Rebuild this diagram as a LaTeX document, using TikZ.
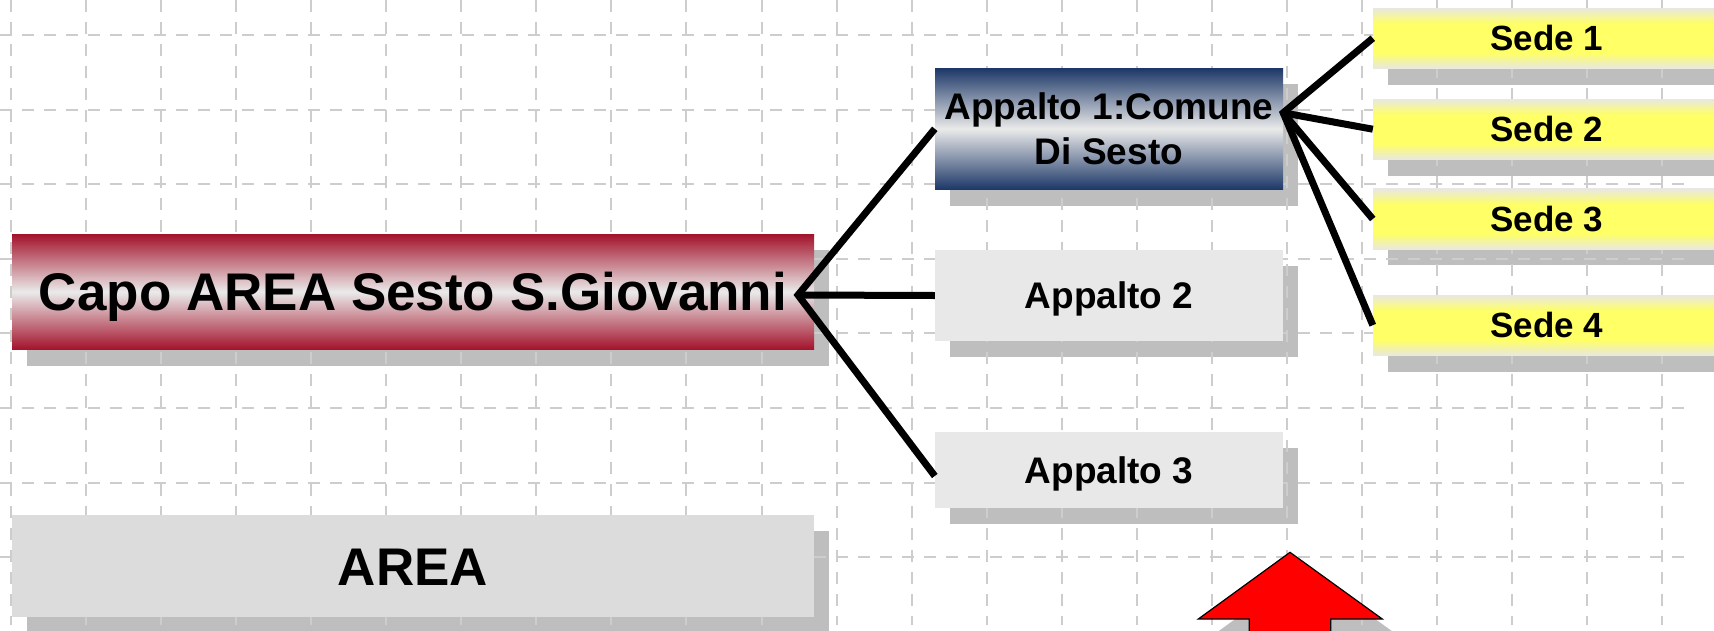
\documentclass[tikz,border=0pt]{standalone}
\usepackage{fontspec}
\setmainfont{Liberation Sans}
\usetikzlibrary{calc}
\definecolor{capored}{HTML}{A3122B}
\definecolor{navyblue}{HTML}{1C3767}
\definecolor{lightmid}{HTML}{EAEAEA}
\definecolor{boxgray}{HTML}{E8E8E8}
\definecolor{areagray}{HTML}{DCDCDC}
\definecolor{shadowgray}{HTML}{BEBEBE}
\definecolor{gridgray}{HTML}{CDCDCD}
\definecolor{sedeyel}{HTML}{FFFF66}
\definecolor{sedegray}{HTML}{E8E8E0}
\pgfdeclareverticalshading{sedeshade}{100bp}{color(0bp)=(sedegray); color(25bp)=(sedegray); color(38bp)=(sedeyel); color(62bp)=(sedeyel); color(75bp)=(sedegray); color(100bp)=(sedegray)}
\pgfdeclarelayer{shadowlayer}
\pgfdeclarelayer{gridlayer}
\pgfsetlayers{shadowlayer,gridlayer,main}
\begin{document}
\begin{tikzpicture}[x=1pt,y=-1pt,
  bigbox/.style={inner sep=0pt, minimum width=802pt, font=\bfseries\fontsize{53}{64}\selectfont, text height=38pt, text depth=0pt},
  twoline/.style={inner sep=0pt, minimum width=348pt, font=\bfseries\fontsize{37}{45}\selectfont, align=center},
  onebox/.style={inner sep=0pt, minimum width=348pt, fill=boxgray, font=\bfseries\fontsize{37}{45}\selectfont, text height=26.5pt, text depth=0pt},
  sedebox/.style={inner sep=0pt, minimum width=348pt, minimum height=60.3pt, shade, shading=sedeshade, font=\bfseries\fontsize{35}{42}\selectfont, text height=25pt, text depth=0pt},
  conn/.style={line width=7pt, black, line join=miter},
  gridline/.style={line width=2pt, gridgray, dash pattern=on 12pt off 10pt},
  arrowshape/.style={fill=red, draw=black, line width=1.2pt, line join=miter}
]
\useasboundingbox (0,0) rectangle (1714,630);
\clip (0,0) rectangle (1714,630);

% nodes
\node[bigbox, top color=capored, bottom color=capored, middle color=lightmid, minimum height=115.5pt] (capo) at (413,291.75) {Capo AREA Sesto S.Giovanni};
\node[bigbox, fill=areagray, minimum height=102pt] (area) at (413,566) {AREA};
\node[twoline, top color=navyblue, bottom color=navyblue, middle color=lightmid, minimum height=121.6pt] (app1) at (1109,128.8) {Appalto 1:Comune\\Di Sesto};
\node[onebox, minimum height=91pt] (app2) at (1109,295.5) {Appalto 2};
\node[onebox, minimum height=76pt] (app3) at (1109,470) {Appalto 3};
\node[sedebox] (sede1) at (1547,38.2) {Sede 1};
\node[sedebox] (sede2) at (1547,129.2) {Sede 2};
\node[sedebox] (sede3) at (1547,219) {Sede 3};
\node[sedebox] (sede4) at (1547,325.2) {Sede 4};

% shadows and background
\begin{pgfonlayer}{shadowlayer}
  \fill[white] (0,0) rectangle (1714,630);
  \foreach \n in {capo,area,app1,app2,app3,sede1,sede2,sede3,sede4}
    \fill[shadowgray] ([shift={(15,16)}]\n.north west) rectangle ([shift={(15,16)}]\n.south east);
  \fill[shadowgray, shift={(15,16)}] (1290,552.3) -- (1382.3,619) -- (1330.7,619) -- (1330.7,660) -- (1249.3,660) -- (1249.3,619) -- (1198.3,619) -- cycle;
\end{pgfonlayer}

% grid
\begin{pgfonlayer}{gridlayer}
  \foreach \i in {0,...,22}
    \draw[gridline] ({11+75.05*\i},0) -- ({11+75.05*\i},625);
  \foreach \j in {0,...,7}
    \draw[gridline] (0,{35+74.6*\j}) -- (1690,{35+74.6*\j});
\end{pgfonlayer}

% connectors
\coordinate (j1) at (798,295);
\coordinate (j2) at ([yshift=16pt]app1.east);
\draw[conn] (app1.west) -- (j1) -- ([yshift=-6pt]app3.west);
\draw[conn] (j1) -- (app2.west);
\draw[conn] (sede1.west) -- (j2) -- (sede4.west);
\draw[conn] (j2) -- (sede2.west);
\draw[conn] (j2) -- (sede3.west);

% red arrow
\draw[arrowshape] (1290,552.3) -- (1382.3,619) -- (1330.7,619) -- (1330.7,660) -- (1249.3,660) -- (1249.3,619) -- (1198.3,619) -- cycle;
\end{tikzpicture}
\end{document}
